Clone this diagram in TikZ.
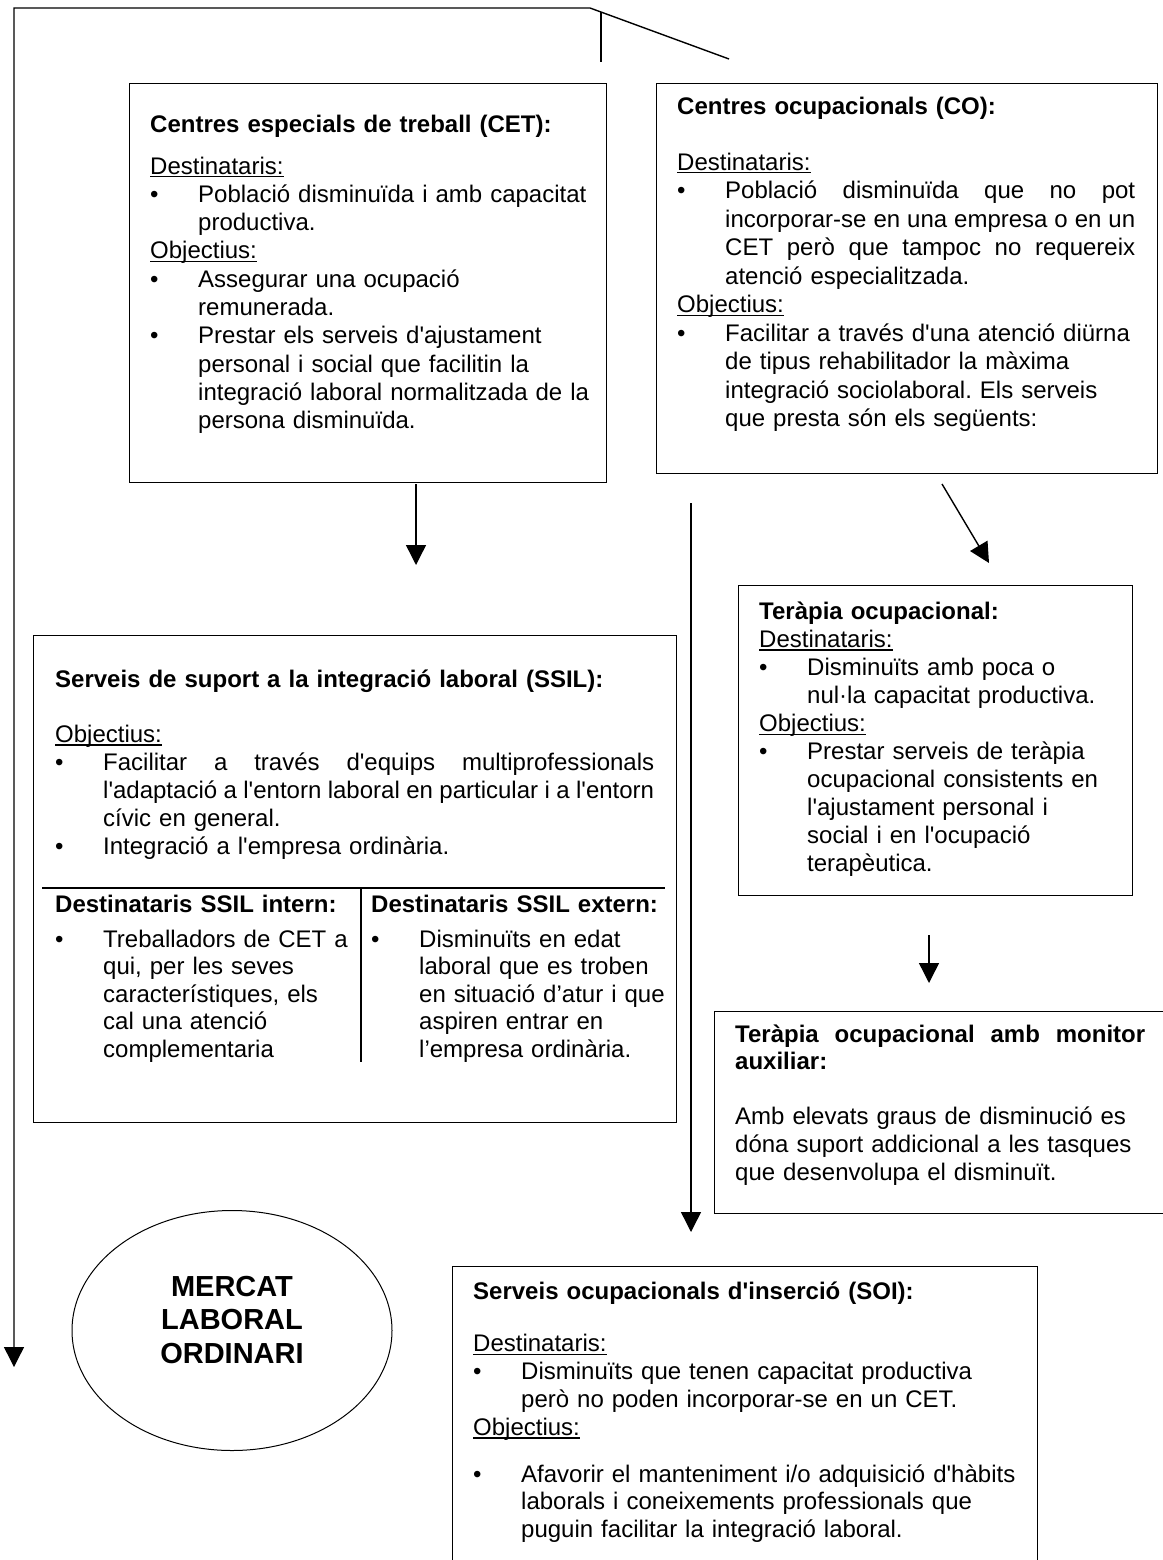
\documentclass[tikz,border=0pt]{standalone}
\usepackage{fontspec}
\newfontfamily\arial{Liberation Sans}
\usetikzlibrary{arrows.meta,shapes.geometric}
\newcommand\ulx[1]{\leavevmode\setbox0\hbox{#1}\rlap{\rule[-3.5pt]{\wd0}{1.3pt}}\box0}
\newcommand\bul[1]{\leavevmode\makebox[48pt][l]{\textbullet}#1}
\newcommand\ind{\leavevmode\hspace*{48pt}}
\newcommand\jus[2]{\makebox[#1][s]{\spaceskip=0pt\xspaceskip=0pt #2}}
\begin{document}
\begin{tikzpicture}[x=1pt,y=-1pt,
  boxx/.style={draw, line width=1.2pt, inner sep=0pt, anchor=north west},
  txt/.style={anchor=base west, inner sep=0pt, text width=640pt,
              font=\arial\frenchspacing\fontsize{24}{#1}\selectfont},
  conn/.style={line width=1.4pt},
  arr/.style={line width=1.4pt, -{Triangle[length=20pt,width=20pt]}}]
\useasboundingbox (0,0) rectangle (1162,1560);
\fill[white] (0,0) rectangle (1162,1560);

% boxes
\node[boxx, minimum width=477pt, minimum height=399pt] (cet) at (129,83) {};
\node[boxx, minimum width=501pt, minimum height=390pt] (co) at (656,83) {};
\node[boxx, minimum width=394pt, minimum height=310pt] (tera) at (738,585) {};
\node[boxx, minimum width=470pt, minimum height=202pt] (mon) at (714,1011) {};
\node[boxx, minimum width=643pt, minimum height=487pt] (ssil) at (33,635) {};
\node[boxx, minimum width=585pt, minimum height=320pt] (soi) at (452,1266) {};
\node[ellipse, draw, line width=1pt, minimum width=320pt, minimum height=240pt, inner sep=0pt] (merc) at (232,1330.5) {};

% texts
\node[txt=28.3pt] (cettxt) at (150,132) {{\bfseries Centres especials de treball (CET):}\\[13.7pt]
\ulx{Destinataris:}\\
\bul{Població disminuïda i amb capacitat}\\
\ind productiva.\\
\ulx{Objectius:}\\
\bul{Assegurar una ocupació}\\
\ind remunerada.\\
\bul{Prestar els serveis d'ajustament}\\
\ind personal i social que facilitin la\\
\ind integració laboral normalitzada de la\\
\ind persona disminuïda.};

\node[txt=28.5pt] (cotxt) at (677,115) {{\bfseries Centres ocupacionals (CO):}\\[26.5pt]
\ulx{Destinataris:}\\
\bul{\jus{410pt}{Població disminuïda que no pot}}\\
\ind\jus{410pt}{incorporar-se en una empresa o en un}\\
\ind\jus{410pt}{CET però que tampoc no requereix}\\
\ind atenció especialitzada.\\
\ulx{Objectius:}\\
\bul{Facilitar a través d'una atenció diürna}\\
\ind de tipus rehabilitador la màxima\\
\ind integració sociolaboral. Els serveis\\
\ind que presta són els següents:};

\node[txt=28.1pt] (teratxt) at (759,619) {{\bfseries Teràpia ocupacional:}\\
\ulx{Destinataris:}\\
\bul{Disminuïts amb poca o}\\
\ind nul·la capacitat productiva.\\
\ulx{Objectius:}\\
\bul{Prestar serveis de teràpia}\\
\ind ocupacional consistents en\\
\ind l'ajustament personal i\\
\ind social i en l'ocupació\\
\ind terapèutica.};

\node[txt=27.6pt] (montxt) at (735,1042) {{\bfseries\jus{410pt}{Teràpia ocupacional amb monitor}}\\
{\bfseries auxiliar:}\\[27.6pt]
Amb elevats graus de disminució es\\
dóna suport addicional a les tasques\\
que desenvolupa el disminuït.};

\node[txt=28pt] (ssiltxt) at (55,687) {{\bfseries Serveis de suport a la integració laboral (SSIL):}\\[27pt]
\ulx{Objectius:}\\
\bul{\jus{551pt}{Facilitar a través d'equips multiprofessionals}}\\
\ind\jus{551pt}{l'adaptació a l'entorn laboral en particular i a l'entorn}\\
\ind cívic en general.\\
\bul{Integració a l'empresa ordinària.}};

\node[txt=27.5pt] (intxt) at (55,912) {{\bfseries Destinataris SSIL intern:}\\[7.5pt]
\bul{Treballadors de CET a}\\
\ind qui, per les seves\\
\ind característiques, els\\
\ind cal una atenció\\
\ind complementaria};

\node[txt=27.5pt] (extxt) at (371,912) {{\bfseries Destinataris SSIL extern:}\\[7.5pt]
\bul{Disminuïts en edat}\\
\ind laboral que es troben\\
\ind en situació d’atur i que\\
\ind aspiren entrar en\\
\ind l’empresa ordinària.};

\node[txt=27.8pt] (soitxt) at (473,1299) {{\bfseries Serveis ocupacionals d'inserció (SOI):}\\[25pt]
\ulx{Destinataris:}\\
\bul{Disminuïts que tenen capacitat productiva}\\
\ind però no poden incorporar-se en un CET.\\
\ulx{Objectius:}\\[19pt]
\bul{Afavorir el manteniment i/o adquisició d'hàbits}\\
\ind laborals i coneixements professionals que\\
\ind puguin facilitar la integració laboral.};

\node[align=center, inner sep=0pt, font=\arial\bfseries\fontsize{29}{33.5}\selectfont] (merctxt) at (232,1320) {MERCAT\\LABORAL\\ORDINARI};

% SSIL table dividers
\coordinate (hl1) at (42,888);
\coordinate (hl2) at (665,888);
\coordinate (vl1) at (361,888);
\coordinate (vl2) at (361,1062);
\draw[line width=1.5pt] (hl1) -- (hl2);
\draw[line width=1.3pt] (vl1) -- (vl2);

% connectors
\coordinate (dEnd) at (729,59);
\coordinate (tCorner) at (590,8);
\coordinate (lCorner) at (14,8);
\coordinate (lEnd) at (14,1367);
\draw[arr, line join=miter] (dEnd) -- (tCorner) -- (lCorner) -- (lEnd);
\coordinate (tk1) at (601,12);
\coordinate (tk2) at (601,62);
\draw[conn] (tk1) -- (tk2);

\coordinate (a1s) at (416,484);
\coordinate (a1e) at (416,565);
\draw[arr] (a1s) -- (a1e);

\coordinate (a2s) at (691,503);
\coordinate (a2e) at (691,1232);
\draw[arr] (a2s) -- (a2e);

\coordinate (a3s) at (942,484);
\coordinate (a3e) at (989,563);
\draw[arr] (a3s) -- (a3e);

\coordinate (a4s) at (929,935);
\coordinate (a4e) at (929,983);
\draw[arr] (a4s) -- (a4e);
\end{tikzpicture}
\end{document}
